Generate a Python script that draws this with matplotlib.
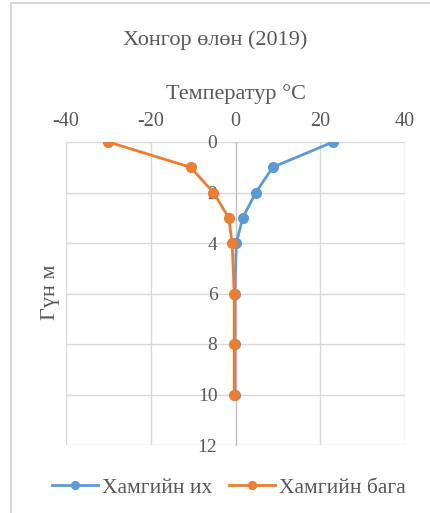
import matplotlib.pyplot as plt
from matplotlib.patches import Rectangle

# гүн (м) ба температур (°C)
depth = [0, 1, 2, 3, 4, 6, 8, 10]
t_max = [23.0, 8.8, 4.8, 1.7, 0.2, -0.2, -0.2, -0.2]
t_min = [-30.0, -10.6, -5.2, -1.6, -0.8, -0.3, -0.3, -0.3]
x_ticks = [-40, -20, 0, 20, 40]
y_ticks = [0, 2, 4, 6, 8, 10, 12]

plt.rcParams['font.family'] = ['Liberation Serif', 'DejaVu Serif']
plt.rcParams['axes.unicode_minus'] = False
txt = '#595959'
blue = '#5B9BD5'
orange = '#ED7D31'

fig = plt.figure(figsize=(4.3, 5.13), dpi=100)
fig.patches.append(Rectangle((11 / 430, -0.1), 1.2, (513 - 3) / 513 + 0.1,
                             transform=fig.transFigure, fill=False,
                             edgecolor='#D0D0D0', linewidth=1.2))

ax = fig.add_axes([66 / 430, 1 - 445 / 513, (405 - 66) / 430, (445 - 142) / 513])

ax.plot(t_max, depth, color=blue, linewidth=2, marker='o', markersize=7,
        label='Хамгийн их', zorder=3)
ax.plot(t_min, depth, color=orange, linewidth=2, marker='o', markersize=7,
        label='Хамгийн бага', zorder=4)

ax.set_xlim(-40, 40)
ax.set_ylim(12, 0)
ax.set_xticks(x_ticks)
ax.set_yticks(y_ticks)
ax.grid(True, color='#D9D9D9', linewidth=1)
ax.set_axisbelow(True)

for s in ['top', 'right', 'bottom']:
    ax.spines[s].set_visible(False)
ax.spines['left'].set_position(('data', 0))
ax.spines['left'].set_color('#BFBFBF')

ax.xaxis.tick_top()
ax.xaxis.set_label_position('top')
ax.tick_params(axis='x', length=0, pad=8, labelsize=14.5, labelcolor=txt)
ax.tick_params(axis='y', length=0, pad=13, labelsize=14, labelcolor=txt)

ax.set_xlabel('Температур °C', fontsize=16, color=txt, labelpad=9)
fig.text(51 / 430, 1 - 292 / 513, 'Гүн м', rotation=90, fontsize=16,
         color=txt, ha='center', va='center')
fig.text(215 / 430, 1 - 40 / 513, 'Хонгор өлөн (2019)', fontsize=16,
         color=txt, ha='center', va='center')

fig.legend(loc='center', bbox_to_anchor=(229 / 430, 1 - 488 / 513), ncol=2,
           frameon=False, fontsize=15.5, labelcolor=txt, handlelength=2.1,
           handletextpad=0.2, columnspacing=0.8, markerscale=0.8)

fig.savefig('out.png', dpi=100)
